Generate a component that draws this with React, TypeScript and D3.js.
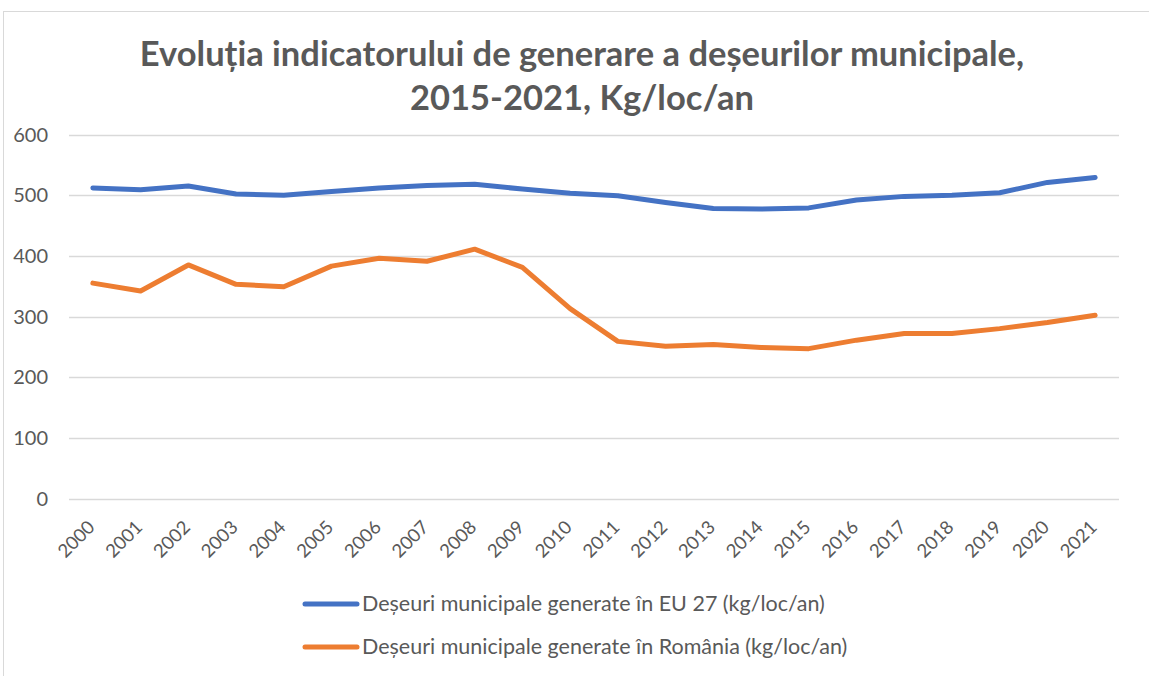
import React, { useRef, useEffect } from "react";
import * as d3 from "d3";

const YEARS = [
  "2000", "2001", "2002", "2003", "2004", "2005", "2006", "2007", "2008", "2009", "2010",
  "2011", "2012", "2013", "2014", "2015", "2016", "2017", "2018", "2019", "2020", "2021",
];
const EU27 = [
  512, 509, 515, 502, 500, 506, 512, 516, 518, 510, 503,
  499, 488, 478, 477, 479, 492, 498, 500, 504, 521, 529,
];
const ROMANIA = [
  355, 342, 385, 353, 349, 383, 396, 391, 411, 381, 313,
  259, 251, 254, 249, 247, 261, 272, 272, 280, 290, 302,
];
const SERIES_NAMES = [
  "Deșeuri municipale generate în EU 27 (kg/loc/an)",
  "Deșeuri municipale generate în România (kg/loc/an)",
];
const Y_TICKS = [0, 100, 200, 300, 400, 500, 600];
const TITLE_LINES = [
  "Evoluția indicatorului de generare a deșeurilor municipale,",
  "2015-2021, Kg/loc/an",
];

const COLORS = ["#4472C4", "#ED7D31"];
const TEXT = "#595959";
const FONT = "Lato, 'Open Sans', sans-serif";
const W = 1149;
const H = 676;
const PLOT = { left: 69, right: 1119, top: 134.5, bottom: 498.5 };

export default function App() {
  const svgRef = useRef<SVGSVGElement | null>(null);

  useEffect(() => {
    if (!svgRef.current) return;
    const svg = d3.select(svgRef.current);
    svg.selectAll("*").remove();

    // frame
    svg
      .append("rect")
      .attr("x", 3.5)
      .attr("y", 11.5)
      .attr("width", W + 20)
      .attr("height", H + 20)
      .attr("fill", "#fff")
      .attr("stroke", "#d9d9d9")
      .attr("stroke-width", 1);

    // title
    TITLE_LINES.forEach((t, i) => {
      svg
        .append("text")
        .attr("x", 582)
        .attr("y", 66 + i * 44)
        .attr("text-anchor", "middle")
        .attr("font-family", FONT)
        .attr("font-weight", "bold")
        .attr("font-size", 34.5)
        .attr("fill", TEXT)
        .text(t);
    });

    const x = d3
      .scaleBand<string>()
      .domain(YEARS)
      .range([PLOT.left, PLOT.right]);
    const y = d3
      .scaleLinear()
      .domain([0, 600])
      .range([PLOT.bottom, PLOT.top]);
    const cx = (d: string) => (x(d) ?? 0) + x.bandwidth() / 2;

    // grid
    svg
      .append("g")
      .selectAll("line")
      .data(Y_TICKS)
      .join("line")
      .attr("x1", PLOT.left)
      .attr("x2", PLOT.right)
      .attr("y1", (d) => Math.round(y(d)) + 0.5)
      .attr("y2", (d) => Math.round(y(d)) + 0.5)
      .attr("stroke", "#d9d9d9")
      .attr("stroke-width", 1.5);

    // y labels
    svg
      .append("g")
      .selectAll("text")
      .data(Y_TICKS)
      .join("text")
      .attr("x", 48)
      .attr("y", (d) => y(d) + 7)
      .attr("text-anchor", "end")
      .attr("font-family", FONT)
      .attr("font-size", 20)
      .attr("fill", TEXT)
      .text((d) => String(d));

    // x labels, rotated
    svg
      .append("g")
      .selectAll("text")
      .data(YEARS)
      .join("text")
      .attr("transform", (d) => `translate(${cx(d) + 3},${PLOT.bottom + 30}) rotate(-45)`)
      .attr("text-anchor", "end")
      .attr("font-family", FONT)
      .attr("font-size", 18.5)
      .attr("fill", TEXT)
      .text((d) => d);

    // lines
    const line = d3
      .line<number>()
      .x((_, i) => cx(YEARS[i]))
      .y((d) => y(d));

    [EU27, ROMANIA].forEach((vals, i) => {
      svg
        .append("path")
        .datum(vals)
        .attr("fill", "none")
        .attr("stroke", COLORS[i])
        .attr("stroke-width", 5)
        .attr("stroke-linejoin", "round")
        .attr("stroke-linecap", "round")
        .attr("d", line);
    });

    // legend
    SERIES_NAMES.forEach((name, i) => {
      const ly = 604 + i * 43;
      svg
        .append("line")
        .attr("x1", 305)
        .attr("x2", 357)
        .attr("y1", ly)
        .attr("y2", ly)
        .attr("stroke", COLORS[i])
        .attr("stroke-width", 5)
        .attr("stroke-linecap", "round");
      svg
        .append("text")
        .attr("x", 362)
        .attr("y", ly + 7)
        .attr("font-family", FONT)
        .attr("font-size", 21.5)
        .attr("fill", TEXT)
        .text(name);
    });
  }, []);

  return (
    <div style={{ position: "absolute", left: 0, top: 0 }}>
      <svg ref={svgRef} width={W} height={H} style={{ display: "block" }} />
    </div>
  );
}
